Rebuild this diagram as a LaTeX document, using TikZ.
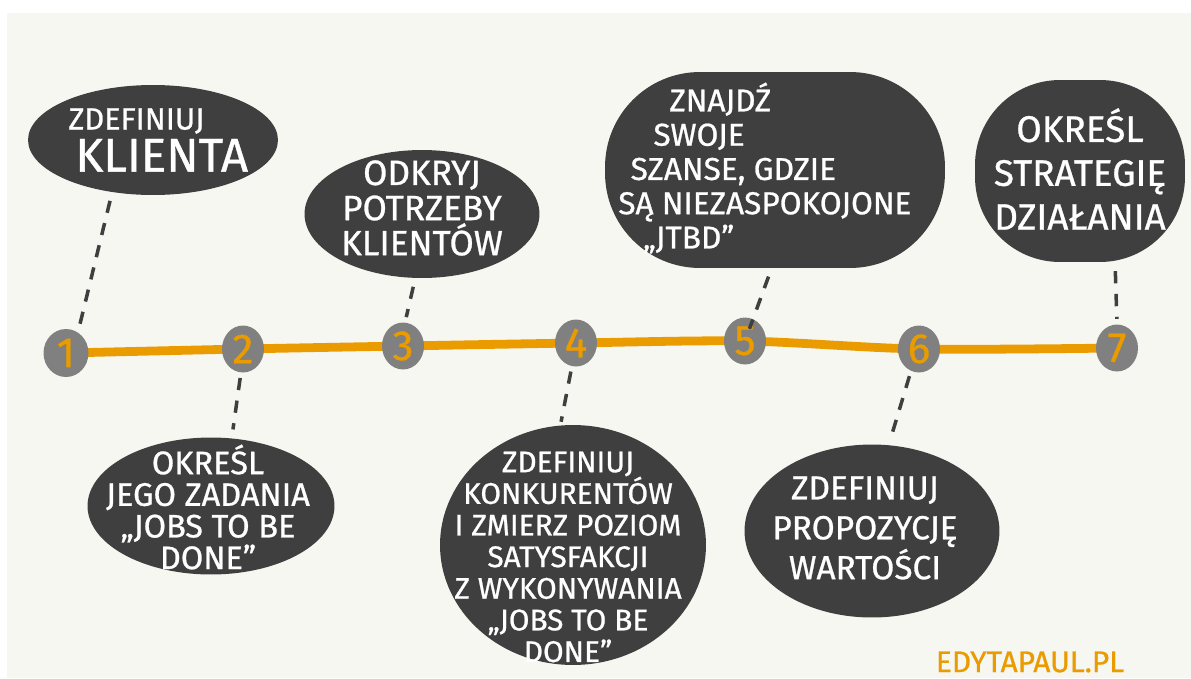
\documentclass[tikz,border=0pt]{standalone}
\usepackage{fontspec}
\setmainfont{Fira Sans}[FakeBold=0.8]
\usetikzlibrary{shapes.geometric}

\definecolor{board}{HTML}{F7F7F2}
\definecolor{ink}{HTML}{3F3F3F}
\definecolor{marker}{HTML}{EA9B00}
\definecolor{dotgray}{HTML}{808080}

\tikzset{
	blob/.style={ellipse, fill=ink, inner sep=0pt},
	boxblob/.style={rectangle, rounded corners=#1, fill=ink, inner sep=0pt},
	blobtext/.style 2 args={text=white, align=center, inner sep=0pt, font=\fontsize{#1}{#2}\selectfont},
	dot/.style={ellipse, fill=dotgray, minimum width=0.84cm, minimum height=0.94cm, inner sep=0pt, text=marker, font=\fontsize{24}{24}\selectfont},
	link/.style={draw=ink, line width=2pt, dash pattern=on 7pt off 6pt, shorten <=5pt, shorten >=3pt},
	timeline/.style={draw=marker, line width=5pt, line cap=round}
}

\begin{document}
\begin{tikzpicture}[x=0.02cm, y=-0.02cm]
		% Board
		\fill[white] (0,0) rectangle (1191,678);
		\fill[board] (7,13) rectangle (1191,678);
		
		% Timeline with the seven steps
		\foreach \i/\x/\y in {1/66/353, 2/243/349, 3/403/346, 4/576/343, 5/745/341, 6/919/349, 7/1117/348}
			\coordinate (p\i) at (\x,\y);
		\draw[timeline] plot[smooth] coordinates {(p1) (p2) (p3) (p4) (p5) (p6) (p7)};
		\node[dot, minimum width=0.9cm, minimum height=0.96cm] (n1) at (p1) {1};
		\foreach \i in {2,...,7}
			\node[dot] (n\i) at (p\i) {\i};
		
		% Clouds above the line
		\node[blob, minimum width=5cm, minimum height=2.2cm] (b1) at (153,140) {};
		\node[blob, minimum width=4.7cm, minimum height=2.56cm] (b3) at (422,214) {};
		\node[boxblob=1.9cm, minimum width=6.8cm, minimum height=3.92cm] (b5) at (775,170) {};
		\node[boxblob=1.7cm, minimum width=4.2cm, minimum height=3.64cm] (b7) at (1080,171) {};
		
		% Clouds below the line
		\node[blob, minimum width=4.94cm, minimum height=2.74cm] (b2) at (211,506) {};
		\node[blob, minimum width=5.32cm, minimum height=4.8cm] (b4) at (573,545) {};
		\node[blob, minimum width=5.1cm, minimum height=3.46cm] (b6) at (872,531) {};
		
		% Dashed links
		\draw[link] (b1.232) -- (n1.60);
		\draw[link] (b3.264) -- (n3.85);
		\draw[link, shorten >=-6pt] (b5.268) -- (n5.70);
		\draw[link] (b7.291) -- (n7.90);
		\draw[link, shorten <=3pt, shorten >=5pt] (n2.265) -- (b2.73);
		\draw[link, shorten <=3pt, shorten >=2pt] (n4.260) -- (b4.96);
		\draw[link, shorten <=3pt, shorten >=5pt] (n6.250) -- (b6.79);
		
		% Texts
		\node[blobtext={17.5}{22}, align=left, anchor=west] (t1) at (68,140) {ZDEFINIUJ\\[2pt] \hspace*{4pt}{\fontsize{27}{27}\selectfont KLIENTA}};
		\node[blobtext={20}{20}] (t3) at (422,208) {ODKRYJ\\POTRZEBY\\KLIENTÓW};
		\node[blobtext={18}{19.5}, align=left, anchor=west] (t5) at (618,168) {\hspace*{29pt}ZNAJDŹ\\\hspace*{20pt}SWOJE\\\hspace*{7pt}SZANSE, GDZIE\\SĄ NIEZASPOKOJONE\\\hspace*{14pt}„JTBD”};
		\node[blobtext={21}{25}] (t7) at (1080,169) {OKREŚL\\STRATEGIĘ\\DZIAŁANIA};
		\node[blobtext={18.5}{18}] (t2) at (208,507) {OKREŚL\\JEGO ZADANIA\\„JOBS TO BE\\DONE”};
		\node[blobtext={17}{18}] (t4) at (568,557) {ZDEFINIUJ\\KONKURENTÓW\\I ZMIERZ POZIOM\\SATYSFAKCJI\\Z WYKONYWANIA\\„JOBS TO BE\\DONE”};
		\node[blobtext={19}{22.7}] (t6) at (865,528) {ZDEFINIUJ\\PROPOZYCJĘ\\WARTOŚCI};
		
		\node[text=marker, font=\fontsize{17}{17}\selectfont] (sign) at (1030,662) {EDYTAPAUL.PL};
	\end{tikzpicture}
\end{document}
